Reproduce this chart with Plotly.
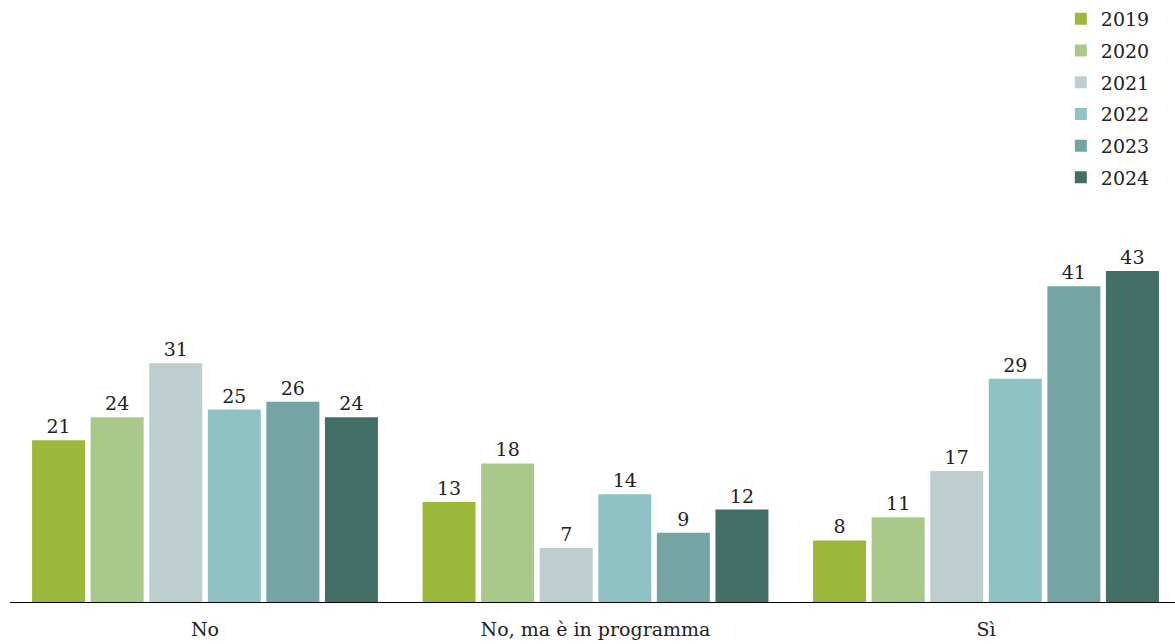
import plotly.graph_objects as go

categories = ["No", "No, ma è in programma", "Sì"]
years = ["2019", "2020", "2021", "2022", "2023", "2024"]
values = {
    "2019": [21, 13, 8],
    "2020": [24, 18, 11],
    "2021": [31, 7, 17],
    "2022": [25, 14, 29],
    "2023": [26, 9, 41],
    "2024": [24, 12, 43],
}
colors = ["#9CB83A", "#A9C98B", "#BECDCE", "#8FC2C4", "#74A4A3", "#436E65"]

FONT = "DejaVu Serif"

fig = go.Figure()
for y, c in zip(years, colors):
    fig.add_trace(go.Bar(
        name=y, x=categories, y=values[y], marker_color=c, marker_line_width=0,
        legendgroup=y,
        text=values[y], textposition="outside", cliponaxis=False,
        textfont=dict(family=FONT, size=19, color="#222222"),
    ))

fig.update_layout(
    width=1175, height=644,
    margin=dict(l=10, r=0, t=217, b=42),
    paper_bgcolor="white", plot_bgcolor="white",
    barmode="group", bargap=0.1, bargroupgap=0.095,
    font=dict(family=FONT, size=19, color="#222222"),
    legend=dict(x=0.902, xanchor="left", y=1.0, yanchor="top", yref="container",
                font=dict(family=FONT, size=19, color="#222222"),
                bgcolor="rgba(0,0,0,0)", tracegroupgap=4, itemwidth=30),
    xaxis=dict(range=[-0.4994, 2.484], showline=True, linecolor="#000000", linewidth=1,
               ticks="", showgrid=False, ticklabelstandoff=10,
               tickfont=dict(family=FONT, size=19, color="#222222")),
    yaxis=dict(range=[0, 50], visible=False, showgrid=False, zeroline=False),
)

fig.write_html("out.html")
